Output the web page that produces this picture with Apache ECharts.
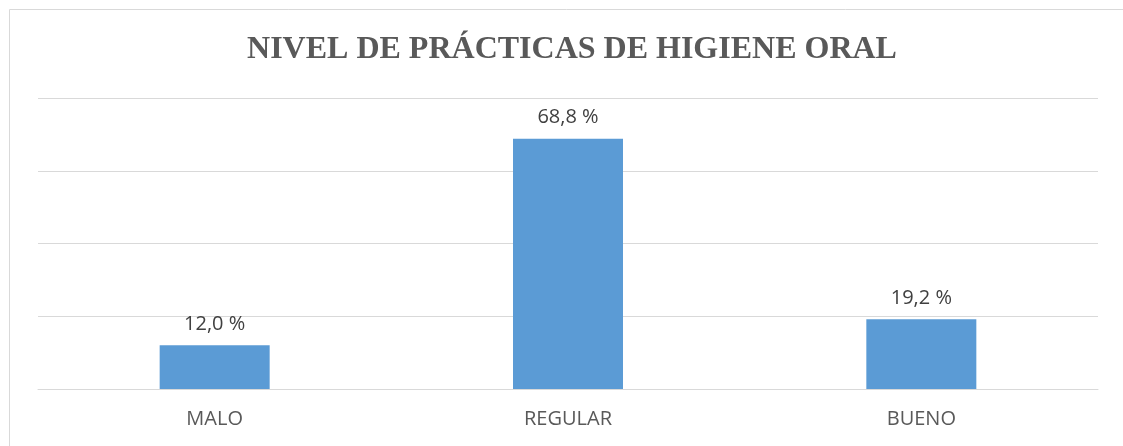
<!DOCTYPE html>
<html>
<head>
<meta charset="utf-8">
<script src="https://cdn.jsdelivr.net/npm/echarts@6/dist/echarts.min.js"></script>
<style>
  body { margin: 0; background: #fff; }
</style>
</head>
<body>
<div id="myChart" style="width:1123px;height:446px;"></div>
<script>
  // datos del gráfico
  let categorias = ['MALO', 'REGULAR', 'BUENO'];
  let porcentajes = [12.0, 68.8, 19.2];
  let titulo = 'NIVEL DE PRÁCTICAS DE HIGIENE ORAL';

  let myChart = echarts.init(document.getElementById('myChart'));
  myChart.setOption({
    animation: false,
    title: {
      text: titulo,
      left: 567,
      textAlign: 'center',
      top: 29,
      textStyle: {
        fontFamily: 'Liberation Serif',
        fontWeight: 'bold',
        fontSize: 32,
        color: '#595959'
      }
    },
    graphic: [{
      type: 'rect',
      shape: { x: 9.5, y: 9.5, width: 1200, height: 500 },
      style: { fill: 'none', stroke: '#d9d9d9', lineWidth: 1 },
      silent: true
    }],
    grid: {
      left: 38,
      right: 25,
      top: 98,
      bottom: 57
    },
    xAxis: {
      type: 'category',
      data: categorias,
      axisTick: { show: false },
      axisLine: { lineStyle: { color: '#d9d9d9', width: 1 } },
      axisLabel: {
        margin: 20,
        fontFamily: 'Open Sans',
        fontSize: 20,
        color: '#595959'
      }
    },
    yAxis: {
      type: 'value',
      min: 0,
      max: 80,
      interval: 20,
      axisLabel: { show: false },
      axisLine: { show: false },
      axisTick: { show: false },
      splitLine: { lineStyle: { color: '#d9d9d9', width: 1 } }
    },
    series: [{
      type: 'bar',
      data: porcentajes,
      barWidth: 110,
      itemStyle: { color: '#5b9bd5' },
      label: {
        show: true,
        position: 'top',
        distance: 11,
        fontFamily: 'Open Sans',
        fontSize: 20,
        color: '#404040',
        formatter: function (p) {
          return p.value.toFixed(1).replace('.', ',') + ' %';
        }
      }
    }]
  });
</script>
</body>
</html>
